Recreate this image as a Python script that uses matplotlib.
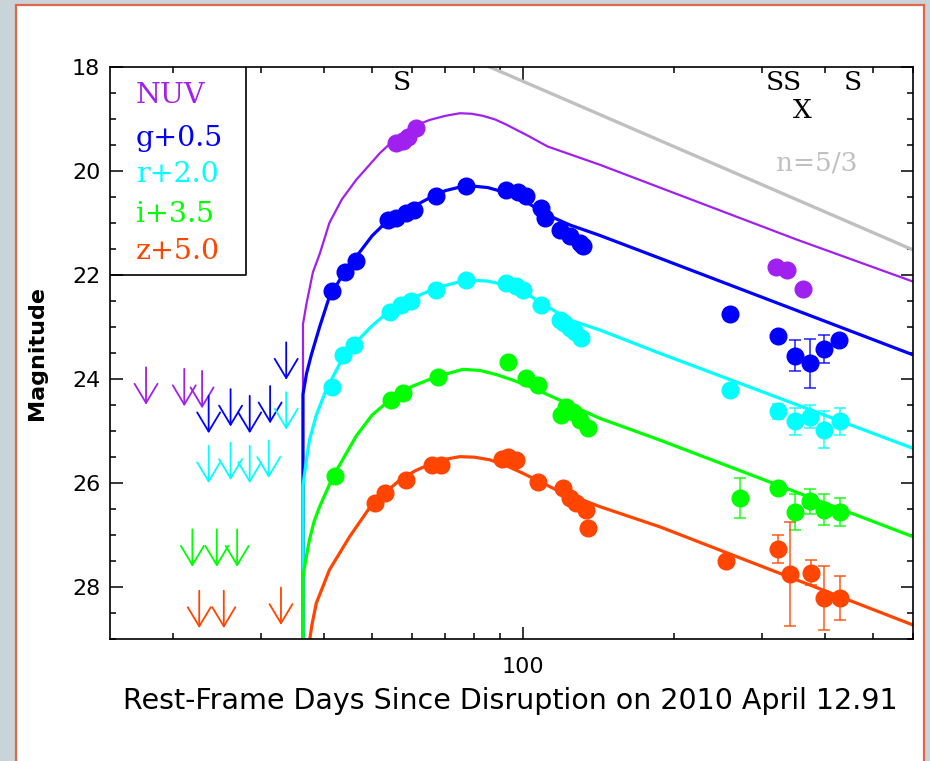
import numpy as np
import matplotlib
matplotlib.use('Agg')
from matplotlib import pyplot as plt
from matplotlib import ticker
from matplotlib.patches import Rectangle

# colours of the bands
c_nuv = '#a020f0'
c_g = '#0000ff'
c_r = '#00ffff'
c_i = '#00ff00'
c_z = '#ff4500'
c_model = '#c0c0c0'

# model light curves (days, mag)
nuv_mod_t = [36.4, 36.4, 37.0, 38.1, 39.3, 41.1, 43.5, 46.5, 51.8, 56.8, 61.3, 65.1, 70.0, 74.8, 79.0, 83.2, 88.0, 92.7,
             103.1, 112.0, 142.2, 351.3, 600]
nuv_mod_m = [30.0, 22.95, 22.55, 21.95, 21.6, 21.0, 20.55, 20.17, 19.66, 19.3, 19.12, 19.02, 18.94, 18.89, 18.9, 18.94, 19.01, 19.11,
             19.34, 19.53, 19.88, 21.32, 22.13]
g_mod_t = [36.4, 36.4, 37.0, 37.8, 39.3, 41.1, 44.1, 46.5, 50.0, 53.4, 58.5, 65.1, 70.0, 77.1, 85.0, 92.7, 101.6, 111.4,
           124.0, 142.2, 187.5, 600]
g_mod_m = [30.0, 24.3, 23.9, 23.55, 23.0, 22.42, 21.94, 21.65, 21.25, 20.98, 20.76, 20.52, 20.38, 20.28, 20.32, 20.42, 20.6, 20.84,
           21.04, 21.24, 21.68, 23.54]
r_mod_t = [36.4, 36.4, 37.0, 37.5, 38.7, 40.5, 43.7, 46.1, 50.0, 54.2, 59.9, 67.2, 77.1, 85.0, 92.7, 100.0, 109.6, 124.0,
           142.2, 187.5, 600]
r_mod_m = [30.0, 26.05, 25.55, 25.18, 24.7, 24.21, 23.6, 23.33, 22.98, 22.69, 22.46, 22.25, 22.1, 22.12, 22.2, 22.32, 22.56, 22.87,
           23.06, 23.51, 25.34]
i_mod_t = [36.4, 36.4, 37.0, 37.5, 38.3, 39.3, 41.8, 46.5, 50.0, 54.2, 60.0, 67.2, 75.9, 82.0, 88.5, 95.0, 103.1, 122.1,
           142.2, 187.5, 600]
i_mod_m = [30.0, 27.8, 27.4, 27.1, 26.75, 26.46, 25.88, 25.1, 24.7, 24.41, 24.15, 23.96, 23.82, 23.84, 23.92, 24.02, 24.15, 24.47,
           24.76, 25.18, 27.04]
z_mod_t = [37.2, 37.9, 38.7, 41.1, 45.1, 50.2, 56.8, 61.0, 66.1, 70.0, 74.8, 80.0, 85.8, 92.0, 100.0, 116.6, 142.2, 187.5, 600]
z_mod_m = [29.3, 28.75, 28.32, 27.68, 27.04, 26.39, 25.95, 25.77, 25.62, 25.55, 25.5, 25.51, 25.56, 25.66, 25.82, 26.14,
           26.46, 26.85, 28.74]

# n=5/3 power law
pl_t = [84.0, 600]
pl_m = [17.96, 21.52]

# detections
nuv_t = [55.9, 57.5, 59.0, 61.3, 320.4, 335.6, 362.2]
nuv_m = [19.47, 19.42, 19.35, 19.17, 21.84, 21.90, 22.28]
nuv_e = [0, 0, 0, 0, 0, 0, 0]

g_t = [41.5, 44.1, 46.5, 53.8, 55.9, 58.5, 60.5, 67.2, 77.1, 92.7, 97.7, 101.6, 108.8, 110.5, 118.4, 124.0, 129.8, 131.8,
       259.4, 322.8, 348.5, 373.5, 398.9, 426.7]
g_m = [22.32, 21.94, 21.74, 20.94, 20.91, 20.81, 20.76, 20.49, 20.30, 20.36, 20.40, 20.49, 20.72, 20.91, 21.13, 21.26, 21.39, 21.45,
       22.75, 23.17, 23.56, 23.70, 23.43, 23.25]
g_e = [0] * 18 + [0, 0, 0.3, 0.47, 0.27, 0]

r_t = [41.5, 43.7, 46.1, 54.2, 57.2, 59.9, 67.2, 77.1, 92.7, 97.0, 100.0, 108.8, 118.4, 121.0, 124.0, 127.0, 130.8,
       259.4, 322.8, 348.5, 373.5, 398.9, 430.0]
r_m = [24.15, 23.54, 23.35, 22.71, 22.58, 22.51, 22.29, 22.10, 22.16, 22.22, 22.29, 22.58, 22.87, 22.93, 23.03, 23.10, 23.22,
       24.21, 24.63, 24.82, 24.73, 24.98, 24.82]
r_e = [0] * 17 + [0, 0.15, 0.26, 0.22, 0.35, 0.26]

i_t = [42.1, 54.6, 57.6, 67.7, 93.3, 101.6, 107.1, 119.3, 122.1, 126.0, 129.8, 134.8,
       270.7, 322.8, 348.5, 373.5, 398.9, 430.0]
i_m = [25.88, 24.41, 24.28, 23.96, 23.67, 23.99, 24.12, 24.70, 24.54, 24.65, 24.79, 24.95,
       26.30, 26.11, 26.56, 26.36, 26.52, 26.56]
i_e = [0] * 12 + [0.39, 0, 0.35, 0.24, 0.3, 0.27]

z_t = [50.6, 53.0, 58.5, 65.7, 68.7, 91.0, 93.3, 97.0, 107.1, 120.2, 124.0, 127.8, 133.8, 134.8,
       254.6, 322.8, 340.6, 375.0, 398.9, 430.0]
z_m = [26.39, 26.20, 25.95, 25.66, 25.66, 25.55, 25.50, 25.56, 25.98, 26.11, 26.30, 26.39, 26.52, 26.88,
       27.51, 27.28, 27.76, 27.73, 28.22, 28.22]
z_e = [0] * 14 + [0, 0.27, 1.0, 0.24, 0.61, 0.42]

# upper limits (arrow tips)
nuv_lim_t = [17.7, 21.1, 22.9]
nuv_lim_m = [24.50, 24.53, 24.57]
g_lim_t = [23.6, 26.1, 28.5, 31.3, 33.7]
g_lim_m = [25.05, 24.92, 25.05, 24.86, 24.02]
r_lim_t = [23.6, 26.1, 28.5, 31.1, 33.7]
r_lim_m = [26.01, 25.95, 26.01, 25.91, 24.98]
i_lim_t = [21.9, 24.5, 26.9]
i_lim_m = [27.62, 27.62, 27.62]
z_lim_t = [22.6, 25.3, 32.9]
z_lim_m = [28.80, 28.80, 28.74]

# epochs of spectra (S) and X-ray (X)
spec_t = [57.3, 317.7, 343.9, 456.0]
xray_t = [360.5]

labels = ['NUV', 'g+0.5', 'r+2.0', 'i+3.5', 'z+5.0']
label_m = [18.55, 19.37, 20.07, 20.83, 21.56]

fig = plt.figure(figsize=(9.3, 7.61), dpi=100)
fig.patch.set_facecolor('#c9d3da')
panel = Rectangle((16 / 930, -0.01), 908 / 930, 1 - 5 / 761 + 0.01, transform=fig.transFigure,
                  facecolor='white', edgecolor='#e06848', lw=1.6, zorder=-10)
fig.patches.append(panel)

ax = fig.add_axes([110 / 930, 1 - 638.5 / 761, 803 / 930, 571.5 / 761])
ax.set_zorder(1)
ax.patch.set_alpha(0)
ax.set_xscale('log')
ax.set_xlim(15, 600)
ax.set_ylim(29, 18)

ax.plot(pl_t, pl_m, color=c_model, lw=2.4)

bands = [
    (nuv_mod_t, nuv_mod_m, nuv_t, nuv_m, nuv_e, nuv_lim_t, nuv_lim_m, c_nuv, 1.6),
    (g_mod_t, g_mod_m, g_t, g_m, g_e, g_lim_t, g_lim_m, c_g, 2.3),
    (r_mod_t, r_mod_m, r_t, r_m, r_e, r_lim_t, r_lim_m, c_r, 2.3),
    (i_mod_t, i_mod_m, i_t, i_m, i_e, i_lim_t, i_lim_m, c_i, 2.3),
    (z_mod_t, z_mod_m, z_t, z_m, z_e, z_lim_t, z_lim_m, c_z, 2.3),
]

for mt, mm, t, m, e, lt, lm, col, lw in bands:
    ax.plot(mt, mm, color=col, lw=lw, zorder=2, solid_joinstyle='round')
    t, m, e = np.array(t), np.array(m), np.array(e)
    has_err = e > 0
    if has_err.any():
        ax.errorbar(t[has_err], m[has_err], yerr=e[has_err], fmt='none', ecolor=col, elinewidth=1.3,
                    capsize=4, capthick=1.3, alpha=0.75, zorder=3)
    ax.plot(t, m, 'o', color=col, ms=12, mec=col, zorder=4)
    for tt, mm_ in zip(lt, lm):
        ax.annotate('', xy=(tt, mm_), xytext=(tt, mm_ - 0.72),
                    arrowprops=dict(arrowstyle='->,head_length=0.6,head_width=0.36', color=col, lw=1.3,
                                    shrinkA=0, shrinkB=0, mutation_scale=23), zorder=3)

# legend box
ax.plot([15, 28, 28], [22, 22, 18], color='k', lw=1.2, zorder=5)
for lab, ym, (_, _, _, _, _, _, _, col, _) in zip(labels, label_m, bands):
    ax.text(16.9, ym, lab, color=col, fontsize=20.5, family='DejaVu Serif', va='center', ha='left')

for st in spec_t:
    ax.text(st, 18.3, 'S', fontsize=19, family='DejaVu Serif', ha='center', va='center')
for xt in xray_t:
    ax.text(xt, 18.84, 'X', fontsize=19, family='DejaVu Serif', ha='center', va='center')
ax.text(385.7, 19.84, 'n=5/3', color=c_model, fontsize=19, family='DejaVu Serif', ha='center', va='center')

ax.xaxis.set_major_locator(ticker.LogLocator(base=10))
ax.xaxis.set_minor_locator(ticker.LogLocator(base=10, subs=range(2, 10)))
ax.xaxis.set_major_formatter(ticker.FuncFormatter(lambda v, p: '%d' % round(v)))
ax.xaxis.set_minor_formatter(ticker.NullFormatter())
ax.yaxis.set_major_locator(ticker.MultipleLocator(2))
ax.yaxis.set_minor_locator(ticker.MultipleLocator(0.5))

ax.tick_params(which='both', direction='in', top=True, right=True, width=1.1)
ax.tick_params(which='major', length=9, labelsize=16)
ax.tick_params(which='minor', length=4.5)
ax.tick_params(axis='x', pad=13)
ax.tick_params(axis='y', pad=7)
for s in ax.spines.values():
    s.set_linewidth(1.2)

ax.text(0.498, -0.1094, 'Rest-Frame Days Since Disruption on 2010 April 12.91', transform=ax.transAxes,
        ha='center', va='center', fontsize=20.5)
ax.text(-0.0909, 0.5, 'Magnitude', transform=ax.transAxes, rotation=90, ha='center', va='center',
        fontsize=16, fontweight='bold')

fig.savefig('out.png', dpi=100, facecolor=fig.get_facecolor())
